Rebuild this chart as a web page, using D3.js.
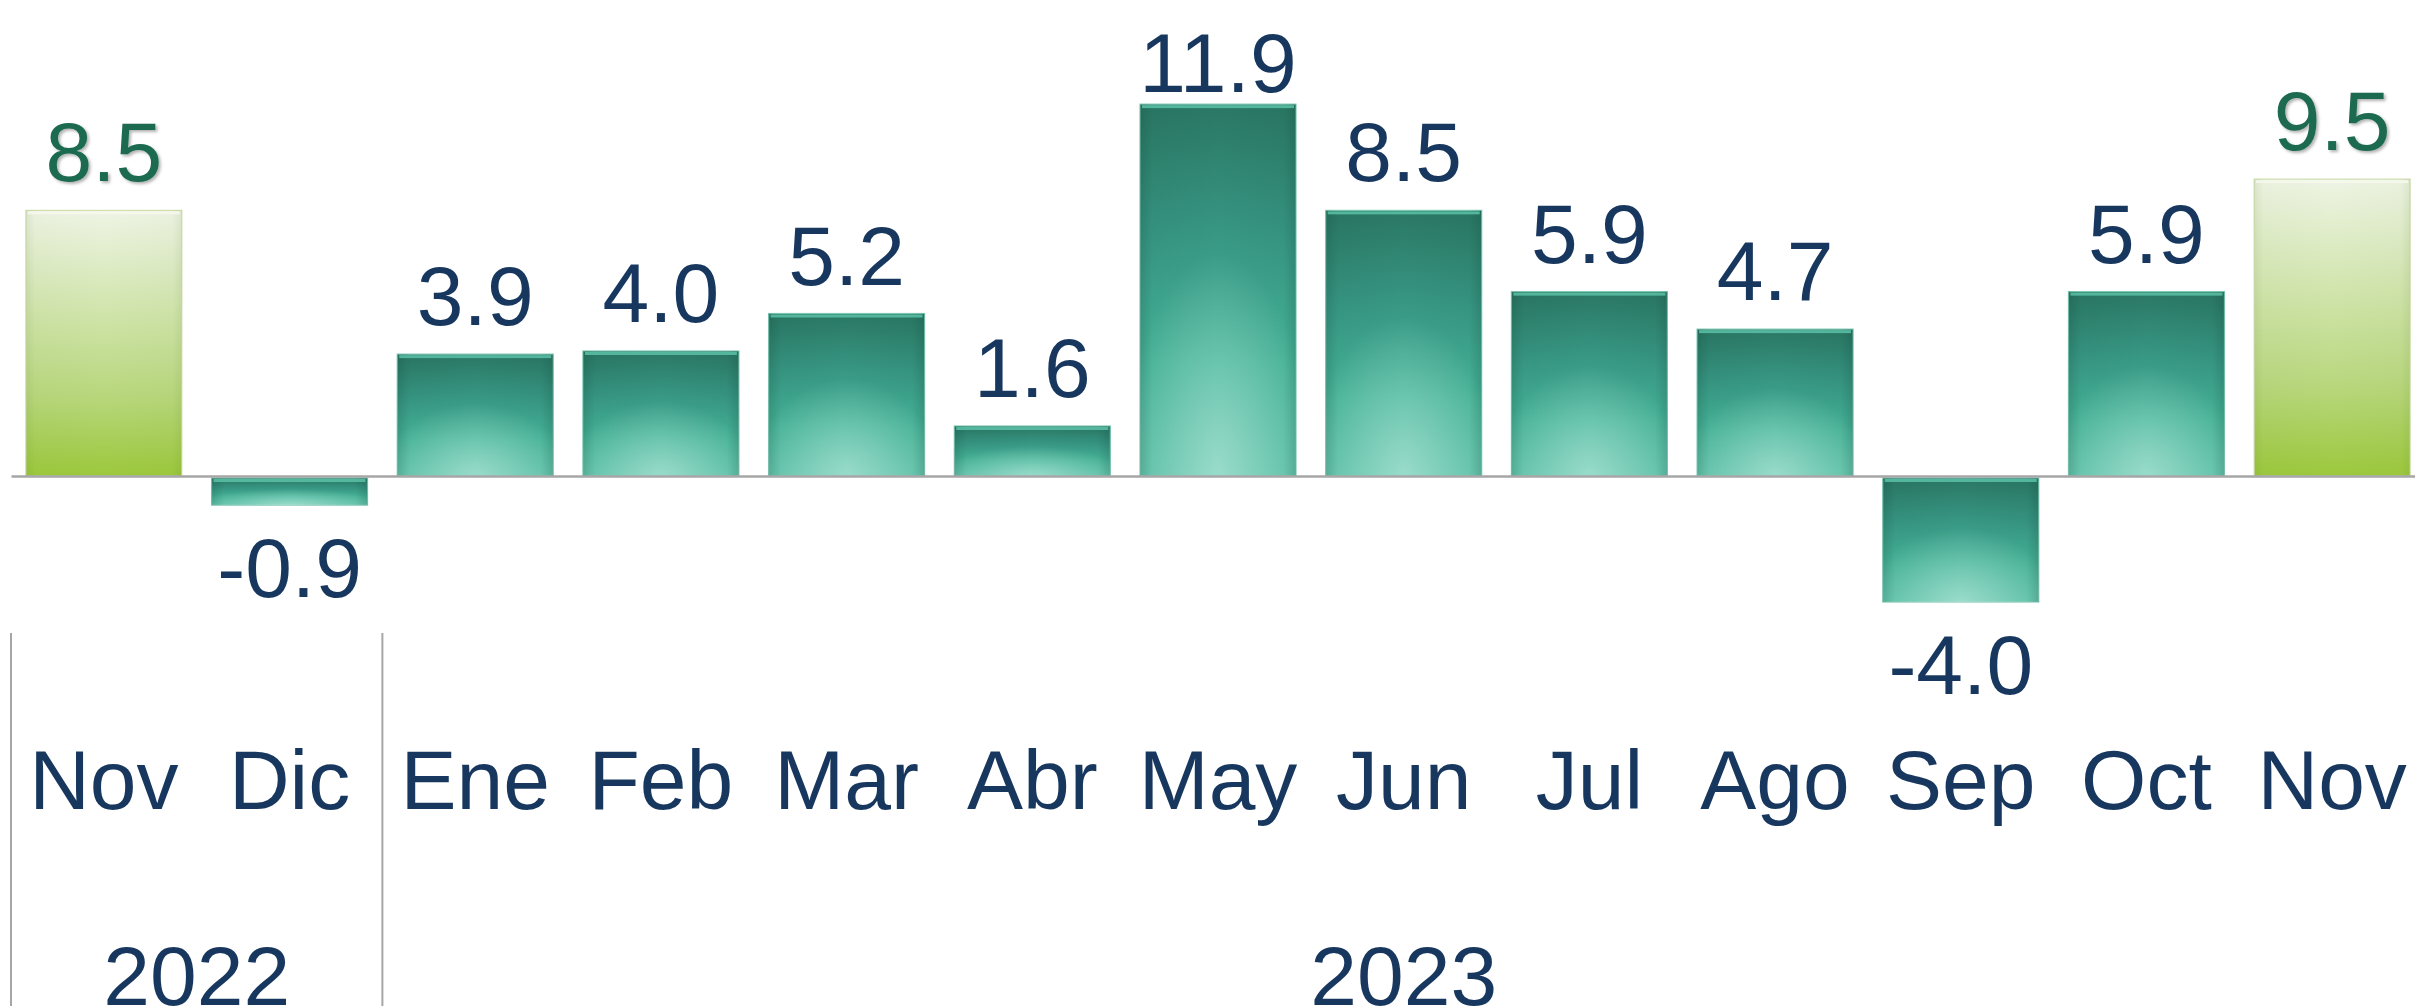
<!DOCTYPE html>
<html>
<head>
<meta charset="utf-8">
<script src="https://cdn.jsdelivr.net/npm/d3@7"></script>
<style>
  html, body { margin: 0; padding: 0; background: #ffffff; overflow: hidden; }
  svg { display: block; }
</style>
</head>
<body>
<svg id="chart" width="2415" height="1006"></svg>
<script>
// ---- data ----
const months = ["Nov", "Dic", "Ene", "Feb", "Mar", "Abr", "May", "Jun", "Jul", "Ago", "Sep", "Oct", "Nov"];
const monthYear = ["2022", "2022", "2023", "2023", "2023", "2023", "2023", "2023", "2023", "2023", "2023", "2023", "2023"];
const values = [8.5, -0.9, 3.9, 4.0, 5.2, 1.6, 11.9, 8.5, 5.9, 4.7, -4.0, 5.9, 9.5];
const years = ["2022", "2023"];

// ---- layout ----
const W = 2415, H = 1006;
const FONT = "'Liberation Sans', Arial, sans-serif";
const TEXT = "#17375e";
const GREEN_TEXT = "#1f6a50";

const svg = d3.select("#chart");
const idx = d3.range(values.length);
const n = values.length;

const x = d3.scaleBand()
  .domain(idx)
  .range([11, 2425])
  .paddingInner(0.16)
  .paddingOuter(0.08);

const y = d3.scaleLinear()
  .domain([-4, 12])
  .range([601, 101]);

const isHighlight = i => i === 0 || i === n - 1;

// ---- gradients ----
const defs = svg.append("defs");

const tealGrad = defs.append("linearGradient")
  .attr("id", "teal").attr("x1", 0).attr("y1", 0).attr("x2", 0).attr("y2", 1);
[["0%", "#2a7764"], ["35%", "#379783"], ["70%", "#48b89c"], ["100%", "#5cc6ab"]]
  .forEach(([o, c]) => tealGrad.append("stop").attr("offset", o).attr("stop-color", c));

const greenGrad = defs.append("linearGradient")
  .attr("id", "green").attr("x1", 0).attr("y1", 0).attr("x2", 0).attr("y2", 1);
[["0%", "#eef4e4"], ["35%", "#d3e6b0"], ["70%", "#b8d77c"], ["100%", "#9cc83c"]]
  .forEach(([o, c]) => greenGrad.append("stop").attr("offset", o).attr("stop-color", c));

const glow = defs.append("radialGradient")
  .attr("id", "glow").attr("cx", 0.5).attr("cy", 1).attr("r", 0.6)
  .attr("fx", 0.5).attr("fy", 1);
glow.append("stop").attr("offset", "0%").attr("stop-color", "#ffffff").attr("stop-opacity", 0.38);
glow.append("stop").attr("offset", "100%").attr("stop-color", "#ffffff").attr("stop-opacity", 0);

const sides = defs.append("linearGradient")
  .attr("id", "sides").attr("x1", 0).attr("y1", 0).attr("x2", 1).attr("y2", 0);
[["0%", 0.22], ["8%", 0.05], ["50%", 0], ["92%", 0.05], ["100%", 0.22]]
  .forEach(([o, a]) => sides.append("stop").attr("offset", o).attr("stop-color", "#0d3a2e").attr("stop-opacity", a));

const sidesG = defs.append("linearGradient")
  .attr("id", "sidesG").attr("x1", 0).attr("y1", 0).attr("x2", 1).attr("y2", 0);
[["0%", 0.10], ["6%", 0.02], ["50%", 0], ["94%", 0.02], ["100%", 0.10]]
  .forEach(([o, a]) => sidesG.append("stop").attr("offset", o).attr("stop-color", "#3d5a10").attr("stop-opacity", a));

const shadow = defs.append("filter").attr("id", "tshadow")
  .attr("x", "-20%").attr("y", "-20%").attr("width", "140%").attr("height", "140%");
shadow.append("feDropShadow").attr("dx", 2).attr("dy", 2).attr("stdDeviation", 1.5)
  .attr("flood-color", "#000").attr("flood-opacity", 0.3);

// ---- bars ----
const barTop = v => Math.min(y(v), y(0));
const barH = v => Math.abs(y(v) - y(0));

const bars = svg.append("g").selectAll("g.bar")
  .data(idx).join("g").attr("class", "bar");

bars.append("rect")
  .attr("x", i => x(i)).attr("y", i => barTop(values[i]) + (values[i] < 0 ? 2 : 0))
  .attr("width", x.bandwidth()).attr("height", i => barH(values[i]) - (values[i] < 0 ? 1 : 0))
  .attr("fill", i => isHighlight(i) ? "url(#green)" : "url(#teal)")
  .attr("stroke", i => isHighlight(i) ? "#cfe0b0" : "#7fcab5")
  .attr("stroke-width", 1.2);

bars.append("rect")
  .attr("x", i => x(i)).attr("y", i => barTop(values[i]) + (values[i] < 0 ? 2 : 0))
  .attr("width", x.bandwidth()).attr("height", i => barH(values[i]) - (values[i] < 0 ? 1 : 0))
  .attr("fill", i => isHighlight(i) ? "url(#sidesG)" : "url(#sides)");

bars.filter(i => !isHighlight(i)).append("rect")
  .attr("x", i => x(i)).attr("y", i => barTop(values[i]) + (values[i] < 0 ? 2 : 0))
  .attr("width", x.bandwidth()).attr("height", i => barH(values[i]) - (values[i] < 0 ? 1 : 0))
  .attr("fill", "url(#glow)");

// top bevel highlight
bars.append("rect")
  .attr("x", i => x(i) + 2).attr("y", i => barTop(values[i]) + (values[i] < 0 ? 3 : 1))
  .attr("width", x.bandwidth() - 4).attr("height", 3)
  .attr("fill", i => isHighlight(i) ? "#f6faef" : "#5fc7ab")
  .attr("opacity", 0.8);

// ---- axis (zero line + month labels) ----
const axis = d3.axisBottom(x)
  .tickSize(0).tickSizeOuter(0)
  .tickPadding(273)
  .tickFormat(i => months[i]);

const gAxis = svg.append("g")
  .attr("transform", `translate(0,${y(0)})`)
  .call(axis);
gAxis.select(".domain").attr("stroke", "#a6a6a6").attr("stroke-width", 2.5);
gAxis.selectAll(".tick text")
  .attr("font-family", FONT).attr("font-size", 84).attr("fill", TEXT);

// ---- value labels ----
const fmt = d3.formatLocale({ decimal: ".", thousands: ",", grouping: [3], currency: ["", ""], minus: "-" }).format(".1f");
svg.append("g").selectAll("text")
  .data(idx).join("text")
  .attr("x", i => x(i) + x.bandwidth() / 2)
  .attr("y", i => values[i] >= 0 ? Math.max(y(values[i]) - 29, 92) : y(values[i]) + 93)
  .attr("text-anchor", "middle")
  .attr("font-family", FONT).attr("font-size", 84)
  .attr("fill", i => isHighlight(i) ? GREEN_TEXT : TEXT)
  .attr("filter", i => isHighlight(i) ? "url(#tshadow)" : null)
  .text(i => fmt(values[i]));

// ---- year groups ----
const groups = years.map(yr => {
  const members = idx.filter(i => monthYear[i] === yr);
  return { yr, first: d3.min(members), last: d3.max(members) };
});
const half = (x.step() - x.bandwidth()) / 2;

svg.append("g").selectAll("line")
  .data(groups).join("line")
  .attr("x1", g => x(g.first) - half).attr("x2", g => x(g.first) - half)
  .attr("y1", 633).attr("y2", H)
  .attr("stroke", "#a6a6a6").attr("stroke-width", 2);

svg.append("g").selectAll("text")
  .data(groups).join("text")
  .attr("x", g => (x(g.first) + x(g.last) + x.bandwidth()) / 2)
  .attr("y", 1005)
  .attr("text-anchor", "middle")
  .attr("font-family", FONT).attr("font-size", 84).attr("fill", TEXT)
  .text(g => g.yr);
</script>
</body>
</html>
